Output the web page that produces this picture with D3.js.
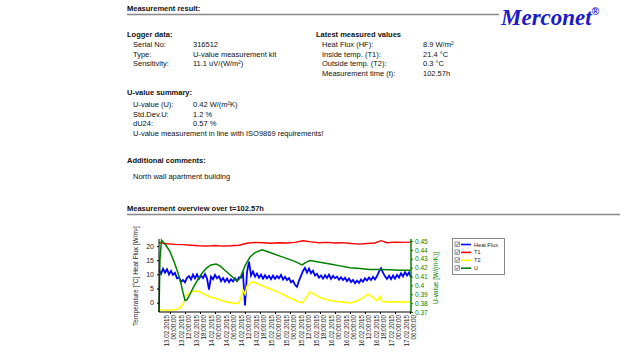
<!DOCTYPE html>
<html><head><meta charset="utf-8">
<script src="https://cdn.jsdelivr.net/npm/d3@7/dist/d3.min.js"></script>
<style>
body{margin:0;background:#fff;}
svg{display:block;font-family:"Liberation Sans",Arial,sans-serif;}
</style></head><body>
<svg id="c" width="625" height="354"></svg>
<script>
// ---------- data ----------
const startTime = "13.02.2015 01:36:00";
const timeTicks = ["13.02.2015 06:00:00","13.02.2015 12:00:00","13.02.2015 18:00:00","14.02.2015 00:00:00",
 "14.02.2015 06:00:00","14.02.2015 12:00:00","14.02.2015 18:00:00","15.02.2015 00:00:00",
 "15.02.2015 06:00:00","15.02.2015 12:00:00","15.02.2015 18:00:00","16.02.2015 00:00:00",
 "16.02.2015 06:00:00","16.02.2015 12:00:00","16.02.2015 18:00:00","17.02.2015 00:00:00","17.02.2015 06:00:00"];
const leftTicks = [0,5,10,15,20];
const rightTicks = [0.37,0.38,0.39,0.40,0.41,0.42,0.43,0.44,0.45];
const seriesNames = ["Heat Flux","T1","T2","U"];

// heat flux sampled every 0.8 h
const hfStep = 0.8;
const heatFlux = [11.5,10.2,12.0,10.6,11.8,10.0,11.2,9.8,10.5,8.6,8.9,7.4,8.0,7.2,8.8,9.4,8.2,9.9,8.6,10.0,
 8.4,9.6,8.7,10.1,8.5,4.6,9.2,8.3,9.8,8.6,9.3,7.6,8.7,7.4,8.5,7.2,8.3,7.5,8.6,7.7,
 9.0,8.8,10.2,-1.0,10.8,14.5,9.6,11.0,9.2,10.3,8.8,9.9,8.5,9.7,8.6,9.5,8.3,9.6,8.4,9.4,
 8.6,9.8,8.2,9.1,8.0,8.7,7.2,7.8,6.3,5.6,7.8,9.5,11.2,12.3,10.6,12.0,10.4,11.3,9.6,10.2,
 8.8,9.6,8.5,9.7,8.7,9.9,8.4,9.5,8.6,9.2,8.1,9.0,8.0,8.8,7.6,8.5,7.3,8.0,6.9,7.8,
 7.0,8.2,7.4,8.6,7.8,8.9,8.0,9.1,8.2,9.4,11.0,12.2,10.6,9.3,8.4,9.5,8.3,9.6,8.5,9.8,
 8.9,10.4,9.3,10.8,9.6,10.7,8.9];

const t1Hours = [0,3.2,6.4,9.6,12.8,16,19.2,22.4,25.6,28.8,32,35.2,38.4,41.6,44.8,48,51.2,54.4,57.6,60.8,64,67.2,70.4,73.6,76.8,80,83.2,86.4,88.8,91.2,94.4,97.6,100.8];
const t1Values = [21.2,20.8,20.6,20.5,20.3,20.1,20.0,20.2,20.0,20.1,20.3,21.0,21.3,21.2,21.0,21.2,21.1,21.3,21.9,21.5,21.2,21.3,21.1,21.2,20.9,20.7,20.9,21.1,21.9,21.2,21.4,21.3,21.4];

const t2Hours = [0,2.4,4.8,7.2,8.4,9.6,10.8,12,13.6,15.2,16.8,18.8,20.8,23.2,25.6,28,30.4,32,32.8,33.6,34.4,35.2,36.4,37.6,39.2,41.6,44,46.4,48.8,51.2,53.6,55.6,57.2,58.8,60.4,62,64.4,67.2,70.4,73.6,76.4,78.8,81.2,83.6,85.6,87.2,88.4,89.2,91.6,94.4,97.6,100.8];
const t2Values = [-2.5,-2.7,-2.6,-2.4,-1.8,-0.5,2.5,3.6,4.0,4.1,3.6,2.6,1.9,1.4,0.6,0.1,-0.3,-0.1,2.0,4.5,3.0,5.8,6.8,7.4,6.8,5.9,5.0,4.2,3.2,2.2,1.2,0.3,-0.1,1.6,3.8,3.0,1.8,1.0,0.5,0.2,-0.1,0.4,1.6,3.0,1.9,0.6,2.2,0.5,0.2,0.3,0.2,0.3];

const uHours = [0,0.4,1.0,1.6,2.8,4.4,6,7.6,8.8,9.6,10.4,11.2,12.4,13.6,15.6,17.6,19.2,20.8,22.8,24.4,26.8,29.2,31.2,32.4,34.4,36.4,38.4,41.2,44.4,48.4,52.4,55.2,57.2,58.8,60.4,64.4,68.4,72.4,76.4,80.4,84.4,88.4,92.4,96.4,100.8];
const uValues = [0.37,0.43,0.451,0.449,0.445,0.438,0.427,0.414,0.402,0.392,0.383,0.384,0.390,0.397,0.407,0.415,0.420,0.423,0.424,0.422,0.416,0.410,0.405,0.408,0.422,0.432,0.437,0.440,0.437,0.433,0.429,0.426,0.423,0.426,0.428,0.426,0.424,0.422,0.420,0.419,0.418,0.418,0.4175,0.417,0.417];

const loggerLabels = ["Serial No:","Type:","Sensitivity:"];
const loggerValues = ["316512","U-value measurement kit","11.1 uV/(W/m²)"];
const latestLabels = ["Heat Flux (HF):","Inside temp. (T1):","Outside temp. (T2):","Measurement time (t):"];
const latestValues = ["8.9 W/m²","21.4 °C","0.3 °C","102.57h"];
const summaryLabels = ["U-value (U):","Std.Dev.U:","dU24:"];
const summaryValues = ["0.42 W/(m²K)","1.2 %","0.57 %"];

// ---------- drawing ----------
const svg = d3.select("#c");
svg.append("rect").attr("width",625).attr("height",354).attr("fill","#fff");
const fs = 7.5;
function txt(x,y,s,opt={}){
  return svg.append("text").attr("x",x).attr("y",y).text(s)
   .attr("font-size",opt.size||fs).attr("font-weight",opt.bold?"bold":"normal")
   .attr("fill",opt.fill||"#111");
}
txt(127,11,"Measurement result:",{bold:true});
svg.append("line").attr("x1",127).attr("x2",499).attr("y1",14.5).attr("y2",14.5).attr("stroke","#888").attr("stroke-width",1.6);
// logo
const logo = svg.append("text").attr("x",501).attr("y",25).attr("font-family","'Liberation Serif',serif")
  .attr("font-style","italic").attr("font-weight","bold").attr("font-size",23).attr("fill","#1b1bc8");
logo.append("tspan").text("Merconet");
logo.append("tspan").text("®").attr("font-size",10).attr("dy",-10).attr("font-style","normal").attr("font-family","'Liberation Sans',sans-serif");

txt(127,37,"Logger data:",{bold:true});
loggerLabels.forEach((l,i)=>{ txt(133,47+i*9.6,l); txt(193,47+i*9.6,loggerValues[i]); });
txt(316,37,"Latest measured values",{bold:true});
latestLabels.forEach((l,i)=>{ txt(322,47+i*9.6,l); txt(423,47+i*9.6,latestValues[i]); });

txt(127,95,"U-value summary:",{bold:true});
summaryLabels.forEach((l,i)=>{ txt(133,107+i*9.6,l); txt(193,107+i*9.6,summaryValues[i]); });
txt(133,136,"U-value measurement in line with ISO9869 requirements!");
txt(127,163,"Additional comments:",{bold:true});
txt(133,179,"North wall apartment building");
txt(127,211,"Measurement overview over t=102.57h",{bold:true});
svg.append("line").attr("x1",127).attr("x2",620).attr("y1",214.5).attr("y2",214.5).attr("stroke","#888").attr("stroke-width",1.6);

// chart
const parse = d3.timeParse("%d.%m.%Y %H:%M:%S");
const t0 = parse(startTime);
const toDate = h => new Date(t0.getTime() + h*3600000);
const x = d3.scaleTime().domain([t0, toDate(100.8)]).range([159,411]);
const yL = d3.scaleLinear().domain([-3.3,22.5]).range([312,239]);
const yR = d3.scaleLinear().domain([0.37,0.4523]).range([312,239]);

const hfData = heatFlux.map((v,i)=>[toDate(i*hfStep),v]);
const t1Data = t1Hours.map((h,i)=>[toDate(h),t1Values[i]]);
const t2Data = t2Hours.map((h,i)=>[toDate(h),t2Values[i]]);
const uData = uHours.map((h,i)=>[toDate(h),uValues[i]]);

const lineL = d3.line().x(d=>x(d[0])).y(d=>yL(d[1]));
const lineR = d3.line().x(d=>x(d[0])).y(d=>yR(d[1]));
const colors = ["#0000ff","#ff0000","#ffff00","#008000"];
svg.append("path").datum(hfData).attr("d",lineL).attr("fill","none").attr("stroke",colors[0]).attr("stroke-width",1.8);
svg.append("path").datum(t1Data).attr("d",lineL).attr("fill","none").attr("stroke",colors[1]).attr("stroke-width",1.4);
svg.append("path").datum(t2Data).attr("d",lineL).attr("fill","none").attr("stroke",colors[2]).attr("stroke-width",1.6);
svg.append("path").datum(uData).attr("d",lineR).attr("fill","none").attr("stroke",colors[3]).attr("stroke-width",1.5);

// axes
const axL = svg.append("g").attr("transform","translate(159,0)")
  .call(d3.axisLeft(yL).tickValues(leftTicks).tickSize(2).tickFormat(d3.format("d")));
axL.select(".domain").attr("d","M0,239V312");
axL.selectAll("text").attr("font-size",7).attr("fill","#222").attr("font-family","'Liberation Sans',sans-serif");
const axR = svg.append("g").attr("transform","translate(411,0)")
  .call(d3.axisRight(yR).tickValues(rightTicks).tickSize(2).tickFormat(d=>String(+d.toFixed(2))));
axR.select(".domain").attr("d","M0,239V312").attr("stroke","#008000").attr("stroke-width",1.5);
axR.selectAll(".tick line").attr("stroke","#008000");
axR.selectAll("text").attr("font-size",6.5).attr("fill","#008000").attr("x",4).attr("font-family","'Liberation Sans',sans-serif");
const tickDates = timeTicks.map(parse);
const axB = svg.append("g").attr("transform","translate(0,312)")
  .call(d3.axisBottom(x).tickValues(tickDates).tickSize(2).tickFormat(""));
axB.select(".domain").attr("d","M159,0H411");
const fmtD = d3.timeFormat("%d.%m.%Y"), fmtT = d3.timeFormat("%H:%M:%S");
tickDates.forEach(d=>{
  const g = svg.append("text").attr("transform",`translate(${x(d)},315) rotate(-90)`)
    .attr("text-anchor","end").attr("font-size",6.3).attr("fill","#222");
  g.append("tspan").attr("x",0).attr("y",-1).text(fmtD(d));
  g.append("tspan").attr("x",0).attr("y",6).text(fmtT(d));
});

svg.append("text").attr("transform","translate(138,276) rotate(-90)").attr("text-anchor","middle")
  .attr("font-size",6.5).attr("fill","#222").text("Temperature [°C] Heat Flux [W/m²]");
svg.append("text").attr("transform","translate(438,278) rotate(-90)").attr("text-anchor","middle")
  .attr("font-size",6.5).attr("fill","#008000").text("U-value [W/(m²K)]");

// legend
const lg = svg.append("g");
lg.append("rect").attr("x",452.5).attr("y",238.5).attr("width",52).attr("height",36).attr("fill","#fff").attr("stroke","#888");
seriesNames.forEach((n,i)=>{
  const yy = 244.5+i*7.9;
  lg.append("rect").attr("x",455).attr("y",yy-2.5).attr("width",4.5).attr("height",4.5).attr("fill","#fff").attr("stroke","#555").attr("stroke-width",0.6);
  lg.append("path").attr("d",`M455.8,${yy-0.3}L457,${yy+1.2}L459,${yy-2}`).attr("fill","none").attr("stroke","#333").attr("stroke-width",0.6);
  lg.append("line").attr("x1",461).attr("x2",471).attr("y1",yy).attr("y2",yy).attr("stroke",colors[i]).attr("stroke-width",1.6);
  lg.append("text").attr("x",474).attr("y",yy+2).attr("font-size",5.6).attr("fill","#222").text(n);
});
</script>
</body></html>
